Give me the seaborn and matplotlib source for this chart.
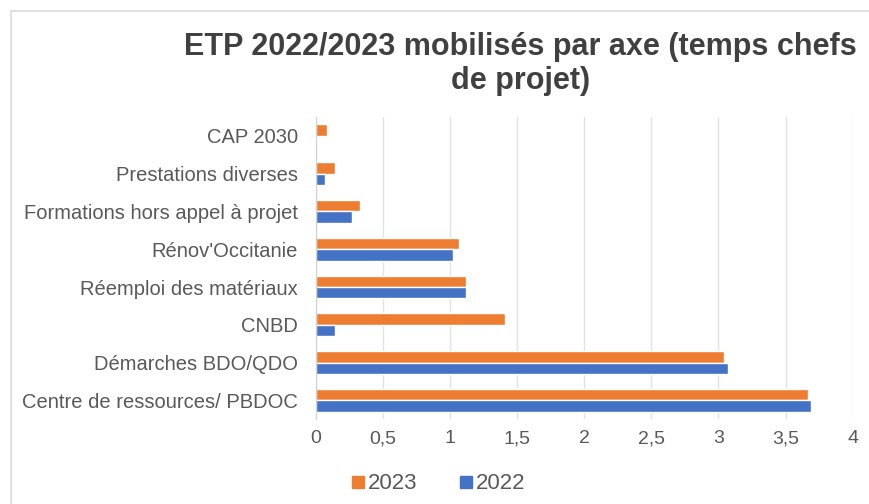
import numpy as np
import pandas as pd
import matplotlib
matplotlib.use("Agg")
import matplotlib.pyplot as plt
from matplotlib.lines import Line2D
import seaborn as sns

categories = ["CAP 2030", "Prestations diverses", "Formations hors appel à projet",
              "Rénov'Occitanie", "Réemploi des matériaux", "CNBD",
              "Démarches BDO/QDO", "Centre de ressources/ PBDOC"]
etp_2023 = [0.08, 0.14, 0.33, 1.07, 1.12, 1.41, 3.04, 3.67]
etp_2022 = [0.0, 0.07, 0.27, 1.02, 1.12, 0.14, 3.07, 3.69]
years = ["2023", "2022"]
xticks = [0, 0.5, 1, 1.5, 2, 2.5, 3, 3.5, 4]
xtick_labels = ["0", "0,5", "1", "1,5", "2", "2,5", "3", "3,5", "4"]

df = pd.DataFrame({
    "axe": categories * 2,
    "etp": etp_2023 + etp_2022,
    "annee": ["2023"] * len(categories) + ["2022"] * len(categories),
})

sns.set_style("white")
plt.rcParams["font.family"] = ["Liberation Sans", "DejaVu Sans"]
grey = "#595959"

fig = plt.figure(figsize=(8.7, 5.04), dpi=100)
ax = fig.add_axes([0.363, 0.168, 0.617, 0.600])

sns.barplot(data=df, y="axe", x="etp", hue="annee", hue_order=years, order=categories,
            palette={"2023": "#ED7D31", "2022": "#4472C4"}, orient="h",
            width=0.6, gap=0, saturation=1, ax=ax, legend=False)

ax.set_xlim(0, 4)
ax.set_ylim(len(categories) - 0.5, -0.5)
ax.set_xticks(xticks)
ax.set_xticklabels(xtick_labels)
ax.set_xlabel("")
ax.set_ylabel("")
ax.grid(axis="x", color="#E3E3E3", linewidth=1)
ax.set_axisbelow(True)
for s in ["top", "right", "bottom"]:
    ax.spines[s].set_visible(False)
ax.spines["left"].set_color("#D0D0D0")
ax.tick_params(axis="both", length=0, colors=grey)
ax.tick_params(axis="x", pad=8, labelsize=14)
ax.tick_params(axis="y", pad=13, labelsize=14.5)

fig.text(0.598, 0.937, "ETP 2022/2023 mobilisés par axe (temps chefs\nde projet)",
         ha="center", va="top", fontsize=22, fontweight="bold", color="#404040",
         linespacing=1.2)

handles = [Line2D([], [], marker="s", linestyle="", markersize=8, color=c)
           for c in ["#ED7D31", "#4472C4"]]
fig.legend(handles, years, loc="center", bbox_to_anchor=(0.502, 0.040), ncol=2,
           frameon=False, fontsize=16, handletextpad=0.0, columnspacing=1.7,
           handlelength=0.9, labelcolor=grey)

# light frame around the chart
fig.add_artist(Line2D([0.0127, 1.0], [0.978, 0.978], color="#DADADA", lw=1.2,
                      transform=fig.transFigure))
fig.add_artist(Line2D([0.0127, 0.0127], [0.0, 0.978], color="#DADADA", lw=1.2,
                      transform=fig.transFigure))

fig.savefig("out.png", dpi=100, facecolor="white")
